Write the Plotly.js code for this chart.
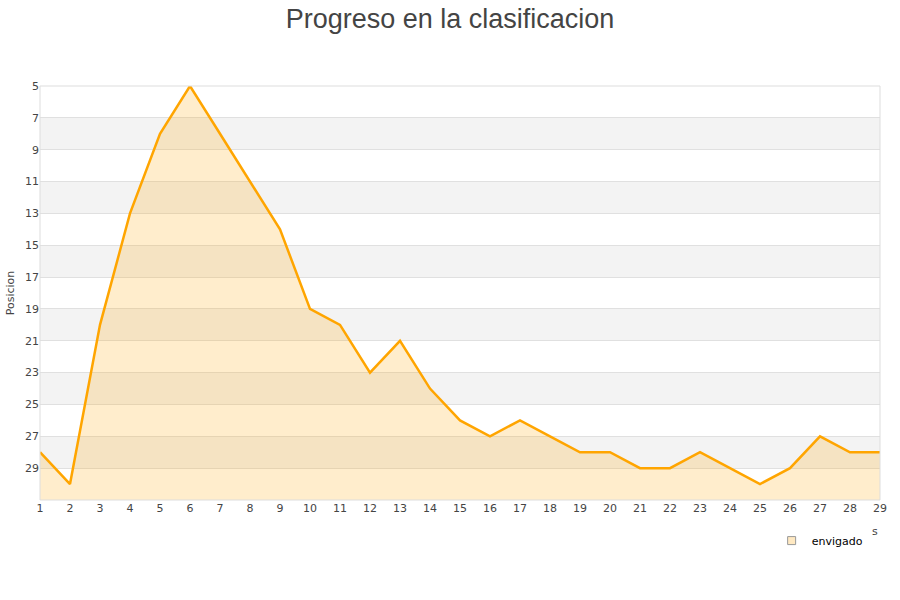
<!DOCTYPE html>
<html><head><meta charset="utf-8">
<script src="https://cdn.plot.ly/plotly-3.0.1.min.js"></script>
<style>body{margin:0;background:#fff}#c{width:900px;height:600px}</style>
</head><body><div id="c"></div>
<script>
const jornadas = [1,2,3,4,5,6,7,8,9,10,11,12,13,14,15,16,17,18,19,20,21,22,23,24,25,26,27,28,29];
const posicion = [28,30,20,13,8,5,8,11,14,19,20,23,21,24,26,27,26,27,28,28,29,29,28,29,30,29,27,28,28];
const yTicks = [5,7,9,11,13,15,17,19,21,23,25,27,29];
const equipo = "envigado";
const yMin = 5, yMax = 31;

const shapes = [];
for (let i = 0; i < yTicks.length; i++) {
  if (i % 2 === 1) {
    shapes.push({type:'rect', xref:'paper', yref:'y', x0:0, x1:1, y0:yTicks[i], y1:yTicks[i]+2,
      fillcolor:'#f3f3f3', line:{width:0}, layer:'below'});
  }
}
shapes.push({type:'rect', xref:'paper', yref:'paper', x0:0, x1:1, y0:0, y1:1, line:{color:'#dddddd', width:1}, fillcolor:'rgba(0,0,0,0)'});

const base = {x: jornadas, y: jornadas.map(()=>yMax), mode:'lines', line:{width:0, color:'rgba(0,0,0,0)'}, showlegend:false, hoverinfo:'skip'};
const main = {x: jornadas, y: posicion, name: equipo, mode:'lines', fill:'tonexty', showlegend:false,
  fillcolor:'rgba(255,165,0,0.2)', line:{color:'#ffa500', width:2.5}};
const legendItem = {x:[null], y:[null], name: equipo, mode:'markers', showlegend:true,
  marker:{symbol:'square', size:8, color:'#ffe9c2', line:{color:'#999', width:1}}};

const layout = {
  width:900, height:600,
  margin:{l:40, r:20, t:86, b:100},
  paper_bgcolor:'#fff', plot_bgcolor:'#fff',
  title:{text:'Progreso en la clasificacion', x:0.5, xanchor:'center', y:0.985, yanchor:'top',
    font:{family:'Liberation Sans, Arial, sans-serif', size:27, color:'#444'}},
  font:{family:'DejaVu Sans, sans-serif', size:11, color:'#444'},
  xaxis:{range:[1,29], tickvals:jornadas, showgrid:false, zeroline:false, showline:false, ticks:'', fixedrange:true,
    tickfont:{size:11, color:'#444'}},
  yaxis:{range:[yMax, yMin], tickvals:yTicks, showgrid:true, gridcolor:'#e0e0e0', zeroline:false, ticks:'',
    tickfont:{size:11, color:'#444'},
    title:{text:'Posicion', font:{size:11, color:'#444'}, standoff:8}},
  shapes: shapes,
  showlegend:true,
  legend:{x:0.871, xanchor:'left', y:-0.063, yanchor:'top', font:{size:11, color:'#000'}, bgcolor:'rgba(0,0,0,0)', itemwidth:30},
  annotations:[{text:'s', xref:'paper', yref:'paper', x:1.0, y:-0.075, xanchor:'right', yanchor:'middle', showarrow:false, font:{size:11, color:'#444'}}]
};
Plotly.newPlot('c', [base, main, legendItem], layout, {displayModeBar:false, staticPlot:true});
</script></body></html>
